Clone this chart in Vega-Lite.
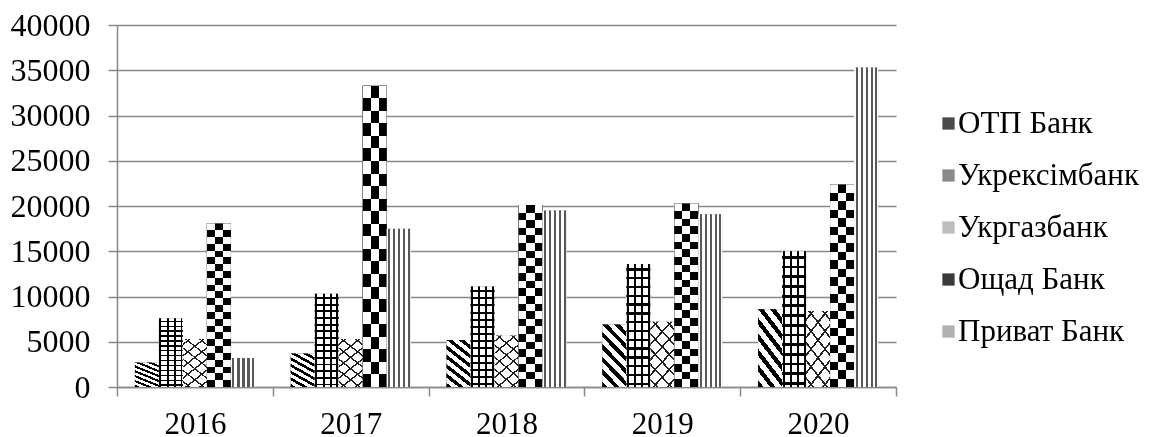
{
  "$schema": "https://vega.github.io/schema/vega-lite/v6.json",
  "width": 779,
  "height": 362,
  "autosize": {"type": "none"},
  "padding": {"left": 117, "top": 25, "right": 263, "bottom": 50},
  "background": "white",
  "config": {
    "view": {"stroke": null},
    "font": "Times New Roman, Liberation Serif, serif",
    "axis": {
      "domainColor": "#898989",
      "domainWidth": 1.5,
      "tickColor": "#898989",
      "tickWidth": 1.5,
      "tickSize": 9,
      "labelFont": "Times New Roman, Liberation Serif, serif",
      "labelColor": "black",
      "title": null
    }
  },
  "data": {
    "values": [
      {"year": "2016", "bank": "ОТП Банк", "value": 2700},
      {"year": "2016", "bank": "Укрексімбанк", "value": 7600},
      {"year": "2016", "bank": "Укргазбанк", "value": 5300},
      {"year": "2016", "bank": "Ощад Банк", "value": 18100},
      {"year": "2016", "bank": "Приват Банк", "value": 3200},
      {"year": "2017", "bank": "ОТП Банк", "value": 3700},
      {"year": "2017", "bank": "Укрексімбанк", "value": 10300},
      {"year": "2017", "bank": "Укргазбанк", "value": 5300},
      {"year": "2017", "bank": "Ощад Банк", "value": 33300},
      {"year": "2017", "bank": "Приват Банк", "value": 17500},
      {"year": "2018", "bank": "ОТП Банк", "value": 5200},
      {"year": "2018", "bank": "Укрексімбанк", "value": 11100},
      {"year": "2018", "bank": "Укргазбанк", "value": 5700},
      {"year": "2018", "bank": "Ощад Банк", "value": 20100},
      {"year": "2018", "bank": "Приват Банк", "value": 19500},
      {"year": "2019", "bank": "ОТП Банк", "value": 6900},
      {"year": "2019", "bank": "Укрексімбанк", "value": 13600},
      {"year": "2019", "bank": "Укргазбанк", "value": 7200},
      {"year": "2019", "bank": "Ощад Банк", "value": 20300},
      {"year": "2019", "bank": "Приват Банк", "value": 19100},
      {"year": "2020", "bank": "ОТП Банк", "value": 8600},
      {"year": "2020", "bank": "Укрексімбанк", "value": 15000},
      {"year": "2020", "bank": "Укргазбанк", "value": 8400},
      {"year": "2020", "bank": "Ощад Банк", "value": 22400},
      {"year": "2020", "bank": "Приват Банк", "value": 35300}
    ]
  },
  "encoding": {
    "x": {
      "field": "year",
      "type": "ordinal",
      "scale": {"paddingInner": 0, "paddingOuter": 0},
      "axis": {"tickBand": "extent", "labelAngle": 0, "labelFontSize": 31, "labelPadding": 13, "grid": false}
    },
    "xOffset": {
      "field": "bank",
      "type": "nominal",
      "scale": {
        "domain": ["ОТП Банк", "Укрексімбанк", "Укргазбанк", "Ощад Банк", "Приват Банк"],
        "paddingInner": 0,
        "paddingOuter": 0.746
      }
    },
    "y": {
      "field": "value",
      "type": "quantitative",
      "scale": {"domain": [0, 40000], "nice": false},
      "axis": {
        "values": [0, 5000, 10000, 15000, 20000, 25000, 30000, 35000, 40000],
        "format": "d",
        "labelFontSize": 32,
        "labelPadding": 18,
        "grid": true,
        "gridColor": "#898989",
        "gridWidth": 1.5
      }
    }
  },
  "layer": [
    {
      "mark": {"type": "bar"},
      "encoding": {
        "color": {
          "field": "bank",
          "type": "nominal",
          "scale": {
            "domain": ["ОТП Банк", "Укрексімбанк", "Укргазбанк", "Ощад Банк", "Приват Банк"],
            "range": ["#4a4a4a", "#8a8a8a", "#bdbdbd", "#3a3a3a", "#b0b0b0"]
          },
          "legend": {
            "title": null,
            "orient": "none",
            "legendX": 816,
            "legendY": 83,
            "padding": 0,
            "symbolType": "square",
            "symbolSize": 150,
            "symbolStrokeWidth": 0,
            "labelFont": "Times New Roman, Liberation Serif, serif",
            "labelFontSize": 31,
            "labelColor": "black",
            "labelOffset": -6,
            "labelLimit": 300,
            "rowPadding": 20
          }
        }
      }
    },
    {
      "transform": [{"filter": "datum.bank === 'ОТП Банк'"}],
      "mark": {
        "type": "bar",
        "fill": {"gradient": "linear", "x1": 0, "y1": 1, "x2": 0.483, "y2": -0.207, "stops": [
          {"offset": 0, "color": "black"}, {"offset": 0.0643, "color": "black"}, {"offset": 0.0643, "color": "white"}, {"offset": 0.1429, "color": "white"},
          {"offset": 0.1429, "color": "black"}, {"offset": 0.2072, "color": "black"}, {"offset": 0.2072, "color": "white"}, {"offset": 0.2857, "color": "white"},
          {"offset": 0.2857, "color": "black"}, {"offset": 0.35, "color": "black"}, {"offset": 0.35, "color": "white"}, {"offset": 0.4286, "color": "white"},
          {"offset": 0.4286, "color": "black"}, {"offset": 0.4929, "color": "black"}, {"offset": 0.4929, "color": "white"}, {"offset": 0.5714, "color": "white"},
          {"offset": 0.5714, "color": "black"}, {"offset": 0.6357, "color": "black"}, {"offset": 0.6357, "color": "white"}, {"offset": 0.7143, "color": "white"},
          {"offset": 0.7143, "color": "black"}, {"offset": 0.7786, "color": "black"}, {"offset": 0.7786, "color": "white"}, {"offset": 0.8571, "color": "white"},
          {"offset": 0.8571, "color": "black"}, {"offset": 0.9214, "color": "black"}, {"offset": 0.9214, "color": "white"}, {"offset": 1, "color": "white"}
        ]}
      },
      "encoding": {}
    },
    {
      "transform": [{"filter": "datum.bank === 'Укрексімбанк'"}],
      "mark": {
        "type": "bar",
        "fill": {"gradient": "linear", "x1": 0, "y1": 0, "x2": 1, "y2": 0, "stops": [
          {"offset": 0, "color": "white"}, {"offset": 0.02, "color": "white"}, {"offset": 0.02, "color": "black"}, {"offset": 0.1, "color": "black"},
          {"offset": 0.1, "color": "white"}, {"offset": 0.33, "color": "white"}, {"offset": 0.33, "color": "black"}, {"offset": 0.41, "color": "black"},
          {"offset": 0.41, "color": "white"}, {"offset": 0.62, "color": "white"}, {"offset": 0.62, "color": "black"}, {"offset": 0.7, "color": "black"},
          {"offset": 0.7, "color": "white"}, {"offset": 0.9, "color": "white"}, {"offset": 0.9, "color": "black"}, {"offset": 0.98, "color": "black"},
          {"offset": 0.98, "color": "white"}, {"offset": 1, "color": "white"}
        ]}
      },
      "encoding": {}
    },
    {
      "transform": [{"filter": "datum.bank === 'Укрексімбанк'"}],
      "mark": {
        "type": "bar",
        "fill": {"gradient": "linear", "x1": 0, "y1": 0, "x2": 0, "y2": 1, "stops": [
          {"offset": 0, "color": "rgba(0,0,0,0)"},
          {"offset": 0.035, "color": "rgba(0,0,0,0)"}, {"offset": 0.035, "color": "black"}, {"offset": 0.055, "color": "black"}, {"offset": 0.055, "color": "rgba(0,0,0,0)"},
          {"offset": 0.1064, "color": "rgba(0,0,0,0)"}, {"offset": 0.1064, "color": "black"}, {"offset": 0.1264, "color": "black"}, {"offset": 0.1264, "color": "rgba(0,0,0,0)"},
          {"offset": 0.1779, "color": "rgba(0,0,0,0)"}, {"offset": 0.1779, "color": "black"}, {"offset": 0.1979, "color": "black"}, {"offset": 0.1979, "color": "rgba(0,0,0,0)"},
          {"offset": 0.2493, "color": "rgba(0,0,0,0)"}, {"offset": 0.2493, "color": "black"}, {"offset": 0.2693, "color": "black"}, {"offset": 0.2693, "color": "rgba(0,0,0,0)"},
          {"offset": 0.3207, "color": "rgba(0,0,0,0)"}, {"offset": 0.3207, "color": "black"}, {"offset": 0.3407, "color": "black"}, {"offset": 0.3407, "color": "rgba(0,0,0,0)"},
          {"offset": 0.3921, "color": "rgba(0,0,0,0)"}, {"offset": 0.3921, "color": "black"}, {"offset": 0.4121, "color": "black"}, {"offset": 0.4121, "color": "rgba(0,0,0,0)"},
          {"offset": 0.4636, "color": "rgba(0,0,0,0)"}, {"offset": 0.4636, "color": "black"}, {"offset": 0.4836, "color": "black"}, {"offset": 0.4836, "color": "rgba(0,0,0,0)"},
          {"offset": 0.535, "color": "rgba(0,0,0,0)"}, {"offset": 0.535, "color": "black"}, {"offset": 0.555, "color": "black"}, {"offset": 0.555, "color": "rgba(0,0,0,0)"},
          {"offset": 0.6064, "color": "rgba(0,0,0,0)"}, {"offset": 0.6064, "color": "black"}, {"offset": 0.6264, "color": "black"}, {"offset": 0.6264, "color": "rgba(0,0,0,0)"},
          {"offset": 0.6779, "color": "rgba(0,0,0,0)"}, {"offset": 0.6779, "color": "black"}, {"offset": 0.6979, "color": "black"}, {"offset": 0.6979, "color": "rgba(0,0,0,0)"},
          {"offset": 0.7493, "color": "rgba(0,0,0,0)"}, {"offset": 0.7493, "color": "black"}, {"offset": 0.7693, "color": "black"}, {"offset": 0.7693, "color": "rgba(0,0,0,0)"},
          {"offset": 0.8207, "color": "rgba(0,0,0,0)"}, {"offset": 0.8207, "color": "black"}, {"offset": 0.8407, "color": "black"}, {"offset": 0.8407, "color": "rgba(0,0,0,0)"},
          {"offset": 0.8921, "color": "rgba(0,0,0,0)"}, {"offset": 0.8921, "color": "black"}, {"offset": 0.9121, "color": "black"}, {"offset": 0.9121, "color": "rgba(0,0,0,0)"},
          {"offset": 0.9636, "color": "rgba(0,0,0,0)"}, {"offset": 0.9636, "color": "black"}, {"offset": 0.9836, "color": "black"}, {"offset": 0.9836, "color": "rgba(0,0,0,0)"},
          {"offset": 1, "color": "rgba(0,0,0,0)"}
        ]}
      },
      "encoding": {}
    },
    {
      "transform": [{"filter": "datum.bank === 'Укргазбанк'"}],
      "mark": {
        "type": "bar",
        "fill": {"gradient": "linear", "x1": 0, "y1": 0, "x2": 0.483, "y2": 1.207, "stops": [
          {"offset": 0, "color": "white"}, {"offset": 0.07, "color": "white"}, {"offset": 0.07, "color": "#222"}, {"offset": 0.095, "color": "#222"},
          {"offset": 0.095, "color": "white"}, {"offset": 0.2367, "color": "white"}, {"offset": 0.2367, "color": "#222"}, {"offset": 0.2617, "color": "#222"},
          {"offset": 0.2617, "color": "white"}, {"offset": 0.4033, "color": "white"}, {"offset": 0.4033, "color": "#222"}, {"offset": 0.4283, "color": "#222"},
          {"offset": 0.4283, "color": "white"}, {"offset": 0.57, "color": "white"}, {"offset": 0.57, "color": "#222"}, {"offset": 0.595, "color": "#222"},
          {"offset": 0.595, "color": "white"}, {"offset": 0.7367, "color": "white"}, {"offset": 0.7367, "color": "#222"}, {"offset": 0.7617, "color": "#222"},
          {"offset": 0.7617, "color": "white"}, {"offset": 0.9033, "color": "white"}, {"offset": 0.9033, "color": "#222"}, {"offset": 0.9283, "color": "#222"},
          {"offset": 0.9283, "color": "white"}, {"offset": 1, "color": "white"}
        ]}
      },
      "encoding": {}
    },
    {
      "transform": [{"filter": "datum.bank === 'Укргазбанк'"}],
      "mark": {
        "type": "bar",
        "fill": {"gradient": "linear", "x1": 0, "y1": 1, "x2": 0.483, "y2": -0.207, "stops": [
          {"offset": 0, "color": "rgba(0,0,0,0)"},
          {"offset": 0.07, "color": "rgba(0,0,0,0)"}, {"offset": 0.07, "color": "#222"}, {"offset": 0.095, "color": "#222"}, {"offset": 0.095, "color": "rgba(0,0,0,0)"},
          {"offset": 0.2367, "color": "rgba(0,0,0,0)"}, {"offset": 0.2367, "color": "#222"}, {"offset": 0.2617, "color": "#222"}, {"offset": 0.2617, "color": "rgba(0,0,0,0)"},
          {"offset": 0.4033, "color": "rgba(0,0,0,0)"}, {"offset": 0.4033, "color": "#222"}, {"offset": 0.4283, "color": "#222"}, {"offset": 0.4283, "color": "rgba(0,0,0,0)"},
          {"offset": 0.57, "color": "rgba(0,0,0,0)"}, {"offset": 0.57, "color": "#222"}, {"offset": 0.595, "color": "#222"}, {"offset": 0.595, "color": "rgba(0,0,0,0)"},
          {"offset": 0.7367, "color": "rgba(0,0,0,0)"}, {"offset": 0.7367, "color": "#222"}, {"offset": 0.7617, "color": "#222"}, {"offset": 0.7617, "color": "rgba(0,0,0,0)"},
          {"offset": 0.9033, "color": "rgba(0,0,0,0)"}, {"offset": 0.9033, "color": "#222"}, {"offset": 0.9283, "color": "#222"}, {"offset": 0.9283, "color": "rgba(0,0,0,0)"},
          {"offset": 1, "color": "rgba(0,0,0,0)"}
        ]}
      },
      "encoding": {}
    },
    {
      "transform": [{"filter": "datum.bank === 'Ощад Банк'"}],
      "mark": {
        "type": "bar",
        "fill": {"gradient": "linear", "x1": 0, "y1": 0, "x2": 1, "y2": 0, "stops": [
          {"offset": 0, "color": "black"}, {"offset": 0.333, "color": "black"}, {"offset": 0.333, "color": "white"},
          {"offset": 0.667, "color": "white"}, {"offset": 0.667, "color": "black"}, {"offset": 1, "color": "black"}
        ]}
      },
      "encoding": {}
    },
    {
      "transform": [{"filter": "datum.bank === 'Ощад Банк'"}],
      "mark": {
        "type": "bar",
        "blend": "difference",
        "fill": {"gradient": "linear", "x1": 0, "y1": 0, "x2": 0, "y2": 1, "stops": [
          {"offset": 0, "color": "white"}, {"offset": 0.0417, "color": "white"}, {"offset": 0.0417, "color": "rgba(255,255,255,0)"}, {"offset": 0.0833, "color": "rgba(255,255,255,0)"},
          {"offset": 0.0833, "color": "white"}, {"offset": 0.125, "color": "white"}, {"offset": 0.125, "color": "rgba(255,255,255,0)"}, {"offset": 0.1667, "color": "rgba(255,255,255,0)"},
          {"offset": 0.1667, "color": "white"}, {"offset": 0.2083, "color": "white"}, {"offset": 0.2083, "color": "rgba(255,255,255,0)"}, {"offset": 0.25, "color": "rgba(255,255,255,0)"},
          {"offset": 0.25, "color": "white"}, {"offset": 0.2917, "color": "white"}, {"offset": 0.2917, "color": "rgba(255,255,255,0)"}, {"offset": 0.3333, "color": "rgba(255,255,255,0)"},
          {"offset": 0.3333, "color": "white"}, {"offset": 0.375, "color": "white"}, {"offset": 0.375, "color": "rgba(255,255,255,0)"}, {"offset": 0.4167, "color": "rgba(255,255,255,0)"},
          {"offset": 0.4167, "color": "white"}, {"offset": 0.4583, "color": "white"}, {"offset": 0.4583, "color": "rgba(255,255,255,0)"}, {"offset": 0.5, "color": "rgba(255,255,255,0)"},
          {"offset": 0.5, "color": "white"}, {"offset": 0.5417, "color": "white"}, {"offset": 0.5417, "color": "rgba(255,255,255,0)"}, {"offset": 0.5833, "color": "rgba(255,255,255,0)"},
          {"offset": 0.5833, "color": "white"}, {"offset": 0.625, "color": "white"}, {"offset": 0.625, "color": "rgba(255,255,255,0)"}, {"offset": 0.6667, "color": "rgba(255,255,255,0)"},
          {"offset": 0.6667, "color": "white"}, {"offset": 0.7083, "color": "white"}, {"offset": 0.7083, "color": "rgba(255,255,255,0)"}, {"offset": 0.75, "color": "rgba(255,255,255,0)"},
          {"offset": 0.75, "color": "white"}, {"offset": 0.7917, "color": "white"}, {"offset": 0.7917, "color": "rgba(255,255,255,0)"}, {"offset": 0.8333, "color": "rgba(255,255,255,0)"},
          {"offset": 0.8333, "color": "white"}, {"offset": 0.875, "color": "white"}, {"offset": 0.875, "color": "rgba(255,255,255,0)"}, {"offset": 0.9167, "color": "rgba(255,255,255,0)"},
          {"offset": 0.9167, "color": "white"}, {"offset": 0.9583, "color": "white"}, {"offset": 0.9583, "color": "rgba(255,255,255,0)"}, {"offset": 1, "color": "rgba(255,255,255,0)"}
        ]}
      },
      "encoding": {}
    },
    {
      "transform": [{"filter": "datum.bank === 'Приват Банк'"}],
      "mark": {
        "type": "bar",
        "fill": {"gradient": "linear", "x1": 0, "y1": 0, "x2": 1, "y2": 0, "stops": [
          {"offset": 0, "color": "white"}, {"offset": 0.06, "color": "white"}, {"offset": 0.06, "color": "#595959"}, {"offset": 0.15, "color": "#595959"},
          {"offset": 0.15, "color": "white"}, {"offset": 0.27, "color": "white"}, {"offset": 0.27, "color": "#595959"}, {"offset": 0.36, "color": "#595959"},
          {"offset": 0.36, "color": "white"}, {"offset": 0.48, "color": "white"}, {"offset": 0.48, "color": "#595959"}, {"offset": 0.57, "color": "#595959"},
          {"offset": 0.57, "color": "white"}, {"offset": 0.69, "color": "white"}, {"offset": 0.69, "color": "#595959"}, {"offset": 0.78, "color": "#595959"},
          {"offset": 0.78, "color": "white"}, {"offset": 0.88, "color": "white"}, {"offset": 0.88, "color": "#595959"}, {"offset": 0.96, "color": "#595959"},
          {"offset": 0.96, "color": "white"}, {"offset": 1, "color": "white"}
        ]}
      },
      "encoding": {}
    }
  ]
}
